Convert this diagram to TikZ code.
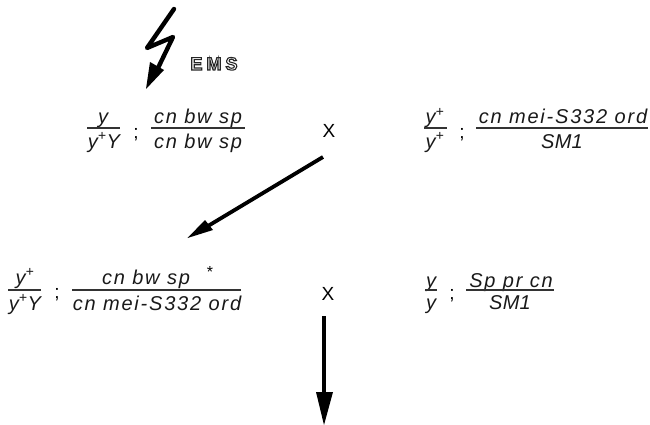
\documentclass[tikz,border=0pt]{standalone}
\usepackage{fontspec}
\setmainfont{Liberation Sans}
\newfontfamily\gen[LetterSpace=9,ItalicFont={Liberation Sans Italic}]{Liberation Sans}
\newfontfamily\gentight[LetterSpace=1,ItalicFont={Liberation Sans Italic}]{Liberation Sans}
\newfontfamily\genb{Liberation Sans Bold}
\begin{document}
\begin{tikzpicture}[x=1pt,y=-1pt,
  gtext/.style={inner sep=0pt,anchor=base,font=\gen\fontsize{20}{22}\selectfont\itshape,text=black!90},
  gshort/.style={inner sep=0pt,anchor=base,font=\gentight\fontsize{20}{22}\selectfont\itshape,text=black!90},
  fracline/.style={line width=1.2pt,black!80},
  cross/.style={inner sep=0pt,anchor=base,font=\fontsize{19}{21}\selectfont},
  semi/.style={inner sep=0pt,anchor=base,font=\fontsize{19}{21}\selectfont},
  bigarrow/.style={line width=3.8pt,black}]
\useasboundingbox (0,0) rectangle (650,425);
% mutagen bolt
\coordinate (b1) at (174,9);
\coordinate (b2) at (147,48);
\coordinate (b3) at (173,37);
\coordinate (b4) at (158,68);
\draw[line width=4.4pt,line join=round,line cap=round] (b1)--(b2)--(b3)--(b4);
\fill (146,89) -- (150,62) -- (164,70) -- cycle;
\node[inner sep=0pt,anchor=base,font=\genb\fontsize{18}{20}\selectfont,text=black!85] (ems) at (214,70) {\special{pdf:code 1 Tr 1.1 w}E\kern4pt M\kern4pt S\special{pdf:code 0 Tr}};
% row 1
\node[gshort] (a1) at (103,124) {y};
\node[gshort] (a2) at (104,148) {y\textsuperscript{+}Y};
\draw[fracline] (87,128)--(120,128);
\node[semi] (s1) at (136,139) {;};
\node[gtext] (a3) at (198,124) {cn bw sp};
\node[gtext] (a4) at (198,148) {cn bw sp};
\draw[fracline] (151,128)--(245,128);
\node[cross] (x1) at (329,138) {X};
\node[gshort] (b5) at (435,124) {y\textsuperscript{+}};
\node[gshort] (b6) at (435,148) {y\textsuperscript{+}};
\draw[fracline] (424,128)--(447,128);
\node[semi] (s2) at (462,139) {;};
\node[gtext] (b7) at (563,124) {cn mei-S332 ord};
\node[gshort] (b8) at (562,148) {SM1};
\draw[fracline] (476,128)--(648,128);
% row 2
\node[gshort] (c1) at (25,284) {y\textsuperscript{+}};
\node[gshort] (c2) at (25,310) {y\textsuperscript{+}Y};
\draw[fracline] (8,290)--(41,290);
\node[semi] (s3) at (57,298) {;};
\node[gtext] (c3) at (146,284) {cn bw sp};
\node[inner sep=0pt,anchor=base,font=\fontsize{16}{18}\selectfont] (st) at (210,277) {*};
\node[gtext] (c4) at (157,310) {cn mei-S332 ord};
\draw[fracline] (72,290)--(241,290);
\node[cross] (x2) at (328,300) {X};
\node[gshort] (d1) at (431,287) {y};
\node[gshort] (d2) at (431,309) {y};
\draw[fracline] (425,290)--(437,290);
\node[semi] (s4) at (452,299) {;};
\node[gtext] (d3) at (511,287) {Sp pr cn};
\node[gshort] (d4) at (510,309) {SM1};
\draw[fracline] (466,290)--(554,290);
% cross arrows
\coordinate (p1) at (323,157);
\coordinate (p2) at (208,226);
\coordinate (t1) at (187.5,238);
\coordinate (p3) at (324,316);
\coordinate (p4) at (324,395);
\coordinate (t2) at (324,425);
\draw[bigarrow] (p1)--(p2);
\fill (t1) -- (205,220) -- (213,230) -- cycle;
\draw[bigarrow,line width=4.6pt] (p3)--(p4);
\fill (t2) -- (316,392) -- (333,392) -- cycle;
\end{tikzpicture}
\end{document}
